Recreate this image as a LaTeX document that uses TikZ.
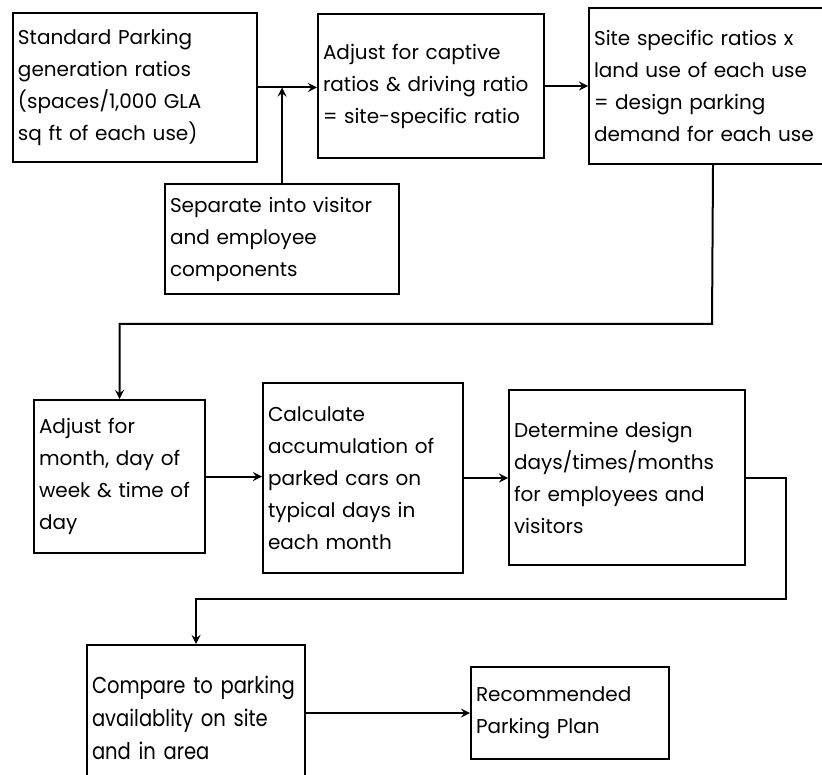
\documentclass[tikz,border=0pt]{standalone}
\usepackage{fontspec}
\setmainfont{Poppins}
\newfontfamily\narrowfont[FakeStretch=0.85]{Poppins}
\usetikzlibrary{arrows.meta}
\usetikzlibrary{positioning}

\begin{document}
\begin{tikzpicture}[->,>=stealth,line width=1pt,x=0.5pt,y=-0.5pt,
			font=\fontsize{10}{16}\selectfont]
			\tikzstyle{box}=[draw,rectangle,anchor=north west,align=left,
				inner xsep=2.5pt,inner ysep=0pt]
			\useasboundingbox (0,0) rectangle (822,774);

			\node[box, text width=117pt, minimum height=74.5pt] (std)  at (12,12)   {Standard Parking\\generation ratios\\(spaces/1,000 GLA\\sq ft of each use)};
			\node[box, text width=108pt, minimum height=72pt]   (capt) at (317,13)  {Adjust for captive\\ratios \& driving ratio\\= site-specific ratio};
			\node[box, text width=119pt, minimum height=78pt]   (site) at (588,7)   {Site specific ratios x\\land use of each use\\= design parking\\demand for each use};
			\node[box, text width=112pt, minimum height=55pt]   (sep)  at (164,183) {Separate into visitor\\and employee\\components};
			\node[box, text width=80.5pt, minimum height=76.5pt] (month) at (33,399) {Adjust for\\month, day of\\week \& time of\\day};
			\node[box, text width=95pt, minimum height=95pt]    (calc) at (262,382) {Calculate\\accumulation of\\parked cars on\\typical days in\\each month};
			\node[box, text width=113pt, minimum height=87.5pt] (det)  at (508,389) {Determine design\\days/times/months\\for employees and\\visitors};
			\node[box, text width=104pt, minimum height=73pt,
				font=\narrowfont\fontsize{11.5}{16.5}\selectfont] (cmp) at (86,644) {Compare to parking\\availablity on site\\and in area};
			\node[box, text width=94pt, minimum height=46pt]    (rec)  at (470,666) {Recommended\\Parking Plan};

			\coordinate (turn1) at (712,324);
			\coordinate (turn2) at (786,599);

			\draw (std.east) -- (std.east -| capt.west);
			\draw (sep.north) -- (sep.north |- std.east);
			\draw (capt.east) -- (capt.east -| site.west);
			\draw (site.south) -- (turn1) -| (month.north);
			\draw (month.east) -- (month.east -| calc.west);
			\draw (calc.east) -- (calc.east -| det.west);
			\draw (det.east) -| (turn2) -| (cmp.north);
			\draw (rec.west -| cmp.east) -- (rec.west);
\end{tikzpicture}
\end{document}
